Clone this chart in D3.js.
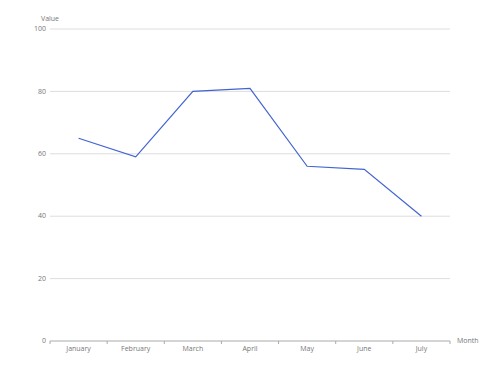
<!DOCTYPE html>
<html>
<head>
<meta charset="utf-8">
<script src="https://cdn.jsdelivr.net/npm/d3@7"></script>
<style>
  body { margin: 0; background: #fff; }
  svg text { font-family: "Open Sans", sans-serif; }
</style>
</head>
<body>
<div id="chart"></div>
<script>
var months = ["January", "February", "March", "April", "May", "June", "July"];
var values = [65, 59, 80, 81, 56, 55, 40];
var yTicks = [0, 20, 40, 60, 80, 100];

var w = 500, h = 375;
var margin = { top: 29, right: 50, bottom: 34, left: 50 };

var svg = d3.select("#chart").append("svg")
    .attr("width", w)
    .attr("height", h);

var x = d3.scaleBand()
    .domain(months)
    .range([margin.left, w - margin.right]);

var y = d3.scaleLinear()
    .domain([0, 100])
    .range([h - margin.bottom, margin.top]);

// gridlines
svg.selectAll(".grid")
    .data(yTicks.filter(function (d) { return d > 0; }))
    .enter()
    .append("line")
    .attr("x1", margin.left)
    .attr("x2", w - margin.right)
    .attr("y1", function (d) { return y(d); })
    .attr("y2", function (d) { return y(d); })
    .attr("stroke", "#dddddd")
    .attr("stroke-width", 1);

// y tick labels
svg.selectAll(".ylab")
    .data(yTicks)
    .enter()
    .append("text")
    .attr("x", margin.left - 4)
    .attr("y", function (d) { return y(d); })
    .attr("dy", "0.32em")
    .attr("text-anchor", "end")
    .attr("font-size", 7)
    .attr("fill", "#777")
    .text(function (d) { return d; });

// x axis
var xAxis = svg.append("g")
    .attr("transform", "translate(0," + y(0) + ")");
xAxis.append("line")
    .attr("x1", margin.left)
    .attr("x2", w - margin.right)
    .attr("stroke", "#aaa")
    .attr("stroke-width", 1);
var bounds = months.map(function (m) { return x(m); }).concat([w - margin.right]);
xAxis.selectAll(".tick")
    .data(bounds)
    .enter()
    .append("line")
    .attr("x1", function (d) { return d; })
    .attr("x2", function (d) { return d; })
    .attr("y1", 0)
    .attr("y2", 3)
    .attr("stroke", "#aaa");
xAxis.selectAll(".xlab")
    .data(months)
    .enter()
    .append("text")
    .attr("x", function (d) { return x(d) + x.bandwidth() / 2; })
    .attr("y", 10)
    .attr("text-anchor", "middle")
    .attr("font-size", 7)
    .attr("fill", "#777")
    .text(function (d) { return d; });

// axis titles
svg.append("text")
    .attr("x", 50)
    .attr("y", 21)
    .attr("text-anchor", "middle")
    .attr("font-size", 7)
    .attr("fill", "#777")
    .text("Value");
svg.append("text")
    .attr("x", w - margin.right + 7)
    .attr("y", y(0))
    .attr("dy", "0.32em")
    .attr("font-size", 7)
    .attr("fill", "#777")
    .text("Month");

// line
var line = d3.line()
    .x(function (d, i) { return x(months[i]) + x.bandwidth() / 2; })
    .y(function (d) { return y(d); });

svg.append("path")
    .datum(values)
    .attr("d", line)
    .attr("fill", "none")
    .attr("stroke", "#4164d1")
    .attr("stroke-width", 1.2);
</script>
</body>
</html>
